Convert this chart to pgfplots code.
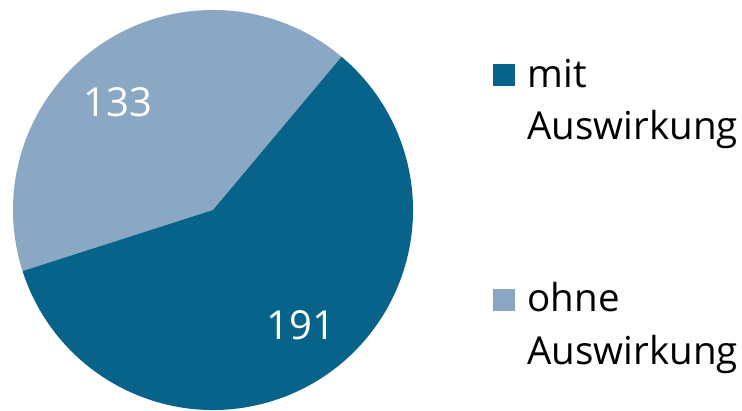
\documentclass[border=0pt]{standalone}
\usepackage{pgfplots}
\usepackage{pgfplotstable}
\pgfplotsset{compat=1.18}
\usepackage{fontspec}
\setmainfont{Open Sans}
\definecolor{mitblau}{RGB}{8,99,138}
\definecolor{ohneblau}{RGB}{138,168,196}

% Anzahl Faelle
\pgfplotstableread{
label value
ohne 133
mit 191
}\piedata

\begin{document}
\begin{tikzpicture}
\pgfplotstablegetelem{0}{value}\of\piedata \let\vohne\pgfplotsretval
\pgfplotstablegetelem{1}{value}\of\piedata \let\vmit\pgfplotsretval
\pgfmathsetmacro{\astart}{50}
\pgfmathsetmacro{\amid}{\astart+360*(\vohne/(\vohne+\vmit))}
\pgfmathsetmacro{\aend}{\astart+360}
\begin{axis}[
    x=1pt, y=1pt,
    xmin=0, xmax=742, ymin=0, ymax=411,
    hide axis, clip=false,
]
  \coordinate (ll) at (axis cs:0,0);
  \coordinate (ur) at (axis cs:742,411);
  % Kreissegmente
  \fill[ohneblau] (axis cs:213,201) -- ++(\astart:200pt)
     arc[start angle=\astart, end angle=\amid, radius=200pt] -- cycle;
  \fill[mitblau] (axis cs:213,201) -- ++(\amid:200pt)
     arc[start angle=\amid, end angle=\aend, radius=200pt] -- cycle;
  % Werte
  \node[white, font=\fontsize{40}{48}\selectfont] at (axis cs:118,309) {\vohne};
  \node[white, font=\fontsize{40}{48}\selectfont] at (axis cs:301,86) {\vmit};
  % Legende
  \fill[mitblau] (axis cs:493,325) rectangle (axis cs:515,347);
  \node[anchor=base west, font=\fontsize{38.5}{46}\selectfont] at (axis cs:524,323) {mit};
  \node[anchor=base west, font=\fontsize{38.5}{46}\selectfont] at (axis cs:524,271) {Auswirkung};
  \fill[ohneblau] (axis cs:493,100) rectangle (axis cs:515,122);
  \node[anchor=base west, font=\fontsize{38.5}{46}\selectfont] at (axis cs:524,99) {ohne};
  \node[anchor=base west, font=\fontsize{38.5}{46}\selectfont] at (axis cs:524,46) {Auswirkung};
\end{axis}
\pgfresetboundingbox
\path[use as bounding box] (ll) rectangle (ur);
\end{tikzpicture}
\end{document}
